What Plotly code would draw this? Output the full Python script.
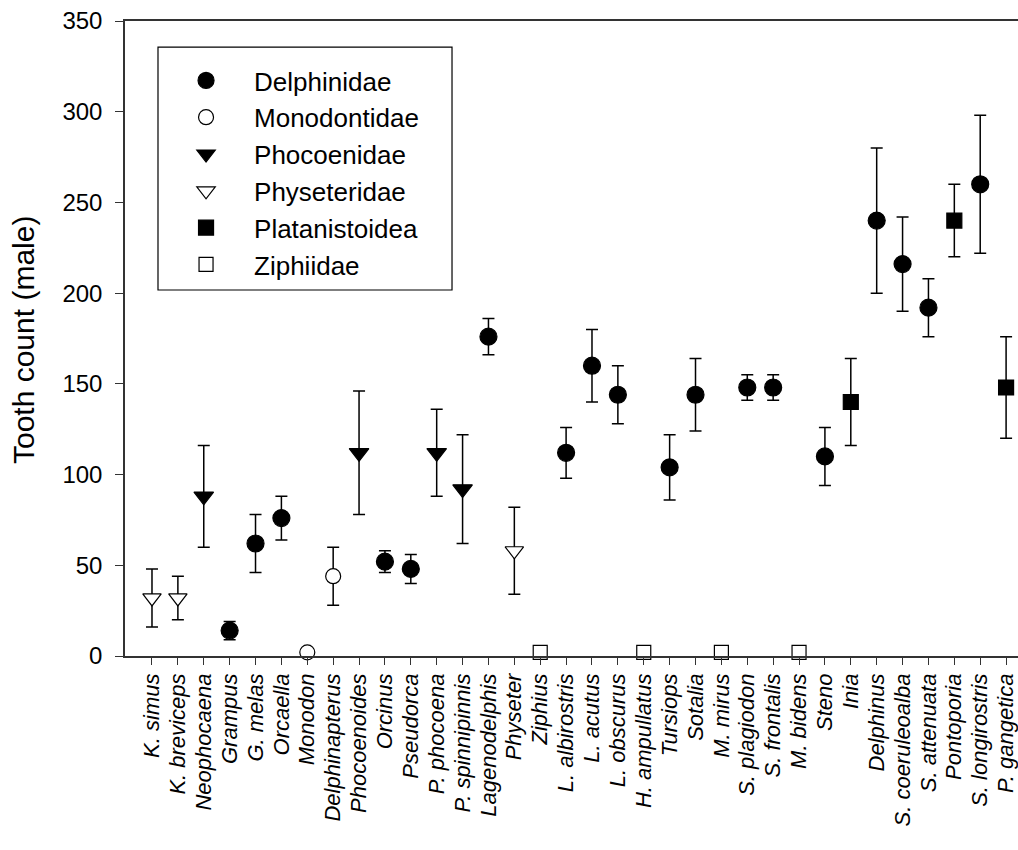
import plotly.graph_objects as go

species = ["K. simus", "K. breviceps", "Neophocaena", "Grampus", "G. melas", "Orcaella",
           "Monodon", "Delphinapterus", "Phocoenoides", "Orcinus", "Pseudorca", "P. phocoena",
           "P. spinnipinnis", "Lagenodelphis", "Physeter", "Ziphius", "L. albirostris", "L. acutus",
           "L. obscurus", "H. ampullatus", "Tursiops", "Sotalia", "M. mirus", "S. plagiodon",
           "S. frontalis", "M. bidens", "Steno", "Inia", "Delphinus", "S. coeruleoalba",
           "S. attenuata", "Pontoporia", "S. longirostris", "P. gangetica"]

family = ["Physeteridae", "Physeteridae", "Phocoenidae", "Delphinidae", "Delphinidae", "Delphinidae",
          "Monodontidae", "Monodontidae", "Phocoenidae", "Delphinidae", "Delphinidae", "Phocoenidae",
          "Phocoenidae", "Delphinidae", "Physeteridae", "Ziphiidae", "Delphinidae", "Delphinidae",
          "Delphinidae", "Ziphiidae", "Delphinidae", "Delphinidae", "Ziphiidae", "Delphinidae",
          "Delphinidae", "Ziphiidae", "Delphinidae", "Platanistoidea", "Delphinidae", "Delphinidae",
          "Delphinidae", "Platanistoidea", "Delphinidae", "Platanistoidea"]

tooth_count = [32, 32, 88, 14, 62, 76,
               2, 44, 112, 52, 48, 112,
               92, 176, 58, 2, 112, 160,
               144, 2, 104, 144, 2, 148,
               148, 2, 110, 140, 240, 216,
               192, 240, 260, 148]

tooth_err = [16, 12, 28, 5, 16, 12,
             0, 16, 34, 6, 8, 24,
             30, 10, 24, 0, 14, 20,
             16, 0, 18, 20, 0, 7,
             7, 0, 16, 24, 40, 26,
             16, 20, 38, 28]

y_ticks = [0, 50, 100, 150, 200, 250, 300, 350]

families = ["Delphinidae", "Monodontidae", "Phocoenidae", "Physeteridae", "Platanistoidea", "Ziphiidae"]
symbols = {"Delphinidae": ("circle", "black", 17),
           "Monodontidae": ("circle", "white", 15),
           "Phocoenidae": ("triangle-down", "black", 17),
           "Physeteridae": ("triangle-down", "white", 16),
           "Platanistoidea": ("square", "black", 15),
           "Ziphiidae": ("square", "white", 14)}

FONT = "Liberation Sans, Arial, Helvetica, sans-serif"

fig = go.Figure()
for fam in families:
    idx = [i for i, f in enumerate(family) if f == fam]
    sym, col, size = symbols[fam]
    fig.add_trace(go.Scatter(
        x=[species[i] for i in idx],
        y=[tooth_count[i] for i in idx],
        mode="markers",
        name=fam,
        cliponaxis=False,
        marker=dict(symbol=sym, color=col, size=size, line=dict(color="black", width=1.2)),
        error_y=dict(type="data", array=[tooth_err[i] for i in idx], visible=True,
                     color="black", thickness=1.5, width=6),
    ))

# legend frame
fig.add_shape(type="rect", xref="paper", yref="paper",
              x0=0.03695, x1=0.3662, y0=0.5764, y1=0.959,
              line=dict(color="black", width=1.2), fillcolor="rgba(0,0,0,0)", layer="above")

# y-axis title
fig.add_annotation(text="Tooth count (male)", xref="paper", yref="paper",
                   x=-0.1142, y=0.4976, xanchor="center", yanchor="middle",
                   textangle=-90, showarrow=False,
                   font=dict(size=30, family=FONT, color="black"))

fig.update_layout(
    width=1018, height=850,
    margin=dict(l=125, r=0, t=21, b=194, autoexpand=False),
    plot_bgcolor="white", paper_bgcolor="white",
    font=dict(family=FONT, color="black"),
    showlegend=True,
    legend=dict(x=0.037, y=0.9433, xanchor="left", yanchor="top",
                borderwidth=0, bgcolor="rgba(0,0,0,0)",
                font=dict(size=26, family=FONT), tracegroupgap=0,
                itemwidth=86, itemsizing="trace"),
    xaxis=dict(type="category", categoryorder="array", categoryarray=species,
               tickmode="array", tickvals=species, ticktext=species,
               range=[-1.043, 33.46], showline=True, linecolor="#333", linewidth=1.5,
               mirror=True, ticks="outside", ticklen=7, tickwidth=1.3, tickcolor="#333",
               tickangle=-90, tickfont=dict(size=22, family=FONT, style="italic"),
               showgrid=False, zeroline=False, automargin=False),
    yaxis=dict(range=[0, 350], tickmode="array", tickvals=y_ticks,
               showline=True, linecolor="#333", linewidth=1.5,
               ticks="outside", ticklen=8, tickwidth=1.3, tickcolor="#333",
               tickfont=dict(size=24, family=FONT), ticklabelstandoff=8,
               showgrid=False, zeroline=False, automargin=False),
)

fig.write_html("out.html", config={"displayModeBar": False},
               post_script="document.body.style.margin='0';document.body.style.overflow='hidden';")
